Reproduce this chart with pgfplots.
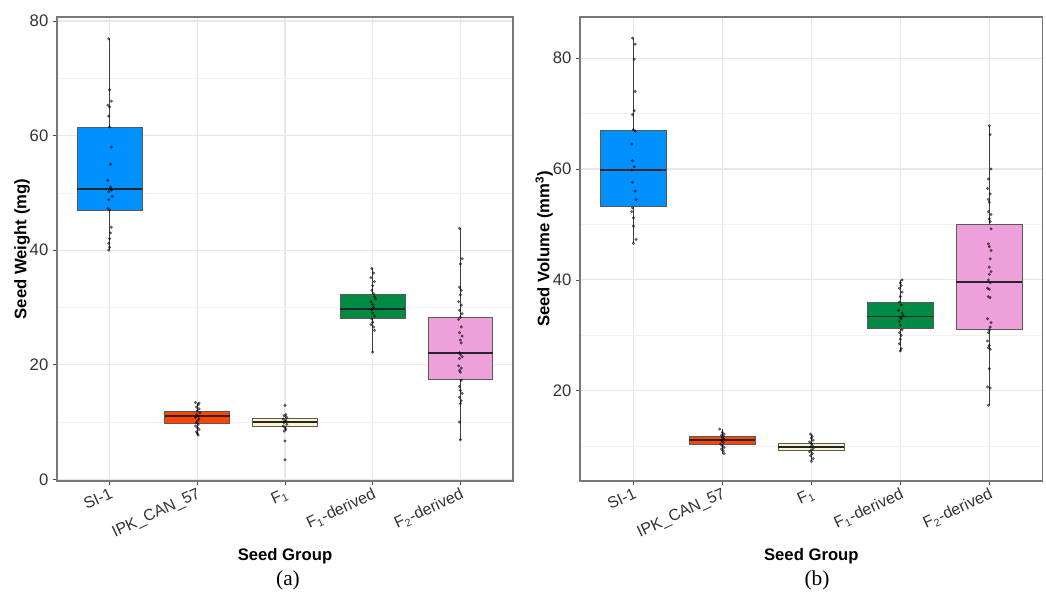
\documentclass[border=0pt]{standalone}
\usepackage{pgfplots}
\pgfplotsset{compat=1.18}
\usepgfplotslibrary{statistics}
\usepackage{fontspec}
\setmainfont{Liberation Sans}
\newfontfamily\capfont{Liberation Serif}
\definecolor{cSI}{RGB}{0,144,255}
\definecolor{cIPK}{RGB}{255,69,0}
\definecolor{cF}{RGB}{250,245,205}
\definecolor{cFd}{RGB}{0,139,69}
\definecolor{cFtwo}{RGB}{238,160,218}
\definecolor{frame}{RGB}{120,120,120}
\pgfplotsset{
  panel/.style={
    scale only axis, width=342pt, height=348pt,
    xmin=0.4, xmax=5.6, xtick={1,2,3,4,5},
    xticklabels={SI-1,IPK\_CAN\_57,F\textsubscript{1},F\textsubscript{1}-derived,F\textsubscript{2}-derived},
    xticklabel style={rotate=25, anchor=north east, inner sep=1pt, font=\fontsize{12}{13}\selectfont, text=black!80},
    yticklabel style={font=\fontsize{12.5}{13}\selectfont, text=black!80},
    /pgf/number format/assume math mode=true,
    grid=both,
    major grid style={color=black!9, line width=0.8pt},
    minor grid style={color=black!5, line width=0.5pt},
    axis line style={frame, line width=0.9pt},
    tick align=outside, tick pos=left,
    major tick length=3pt, minor tick length=0pt,
    every tick/.style={black!70, line width=0.6pt},
    xlabel={Seed Group},
    xlabel style={font=\fontsize{12.5}{14}\bfseries, yshift=-1pt},
    ylabel style={font=\fontsize{12.5}{14}\bfseries},
    ylabel shift=-7pt,
    boxplot/draw direction=y,
    boxplot/box extend=0.74,
    boxplot/whisker extend=0,
    boxplot/every median/.style={line width=1.3pt, draw=black!85},
    boxplot/every whisker/.style={draw=black!75, line width=0.7pt},
  },
  pts/.style={only marks, mark=*, mark size=0.95pt, mark options={draw=black, fill=black, opacity=0.5}},
  bx/.style={draw=black!65, line width=0.6pt, fill=#1},
}
\begin{document}
\begin{tikzpicture}
\useasboundingbox (0,0) rectangle (784.5pt,449.25pt);
% Panel (a)
\begin{axis}[panel, at={(42.75pt,88.5pt)}, anchor=south west,
  ymin=-0.3, ymax=80.7, ytick={0,20,40,60,80}, minor ytick={10,30,50,70},
  ylabel={Seed Weight (mg)}]
\addplot[bx=cSI, boxplot prepared={draw position=1, lower whisker=40.0, lower quartile=47.0, median=50.7, upper quartile=61.4, upper whisker=76.9}] coordinates {};
\addplot[bx=cIPK, boxplot prepared={draw position=2, lower whisker=7.7, lower quartile=9.7, median=11.0, upper quartile=11.9, upper whisker=13.4}] coordinates {};
\addplot[bx=cF, boxplot prepared={draw position=3, lower whisker=8.4, lower quartile=9.2, median=10.0, upper quartile=10.6, upper whisker=11.3}] coordinates {};
\addplot[bx=cFd, boxplot prepared={draw position=4, lower whisker=22.2, lower quartile=28.0, median=29.7, upper quartile=32.2, upper whisker=36.8}] coordinates {};
\addplot[bx=cFtwo, boxplot prepared={draw position=5, lower whisker=6.9, lower quartile=17.5, median=22.0, upper quartile=28.2, upper whisker=43.8}] coordinates {};
\addplot[pts] coordinates {
(0.99,76.9)(1.0,68)(1.02,66)(0.98,65.3)(1.0,65)(0.99,63.4)(1.0,61.5)(1.02,58)(1.01,55)(0.98,52.2)(1.01,51.0)(1.02,50.5)(0.99,50.2)(1.03,49.4)(0.99,48.8)(0.98,47.3)(1.0,47.0)(1.02,44)(1.01,43)(1.0,42)(0.99,41.2)(1.0,40.5)(0.99,40.0)
(1.98,13.4)(2.02,13.3)(2.01,13.0)(1.99,12.6)(2.02,12.3)(2.0,11.9)(2.03,11.6)(1.99,11.3)(2.01,11.0)(1.98,10.8)(2.02,10.5)(2.0,10.2)(1.99,9.9)(2.01,9.6)(1.98,9.3)(2.0,9.0)(2.02,8.7)(1.99,8.3)(2.0,8.0)(2.01,7.7)
(3.0,12.9)(3.01,11.3)(2.99,11.1)(3.02,10.8)(2.98,10.5)(3.01,10.3)(3.0,10.1)(2.99,9.9)(3.02,9.6)(2.98,9.3)(3.0,9.0)(3.01,8.7)(2.99,8.4)(3.0,6.7)(3.0,3.4)
(3.99,36.8)(4.01,36.0)(3.98,35.2)(4.02,34.5)(4.0,33.8)(3.99,33.0)(4.01,32.4)(4.02,31.9)(4.03,31.5)(3.98,31.0)(4.0,30.5)(4.01,30.0)(3.99,29.6)(4.0,29.0)(4.02,28.5)(3.99,28.0)(4.0,27.4)(3.98,27.0)(4.01,26.6)(4.02,26.0)(4.0,22.2)
(4.99,43.8)(5.02,38.5)(5.0,37.6)(4.99,33.5)(5.01,33.0)(5.0,32.2)(4.98,31.0)(5.01,30.4)(4.99,29.5)(5.02,28.9)(5.0,28.3)(4.98,27.9)(5.01,26.6)(4.99,25.6)(5.02,25.0)(5.0,24.3)(5.01,23.8)(4.99,22.1)(5.0,21.8)(5.02,21.4)(4.99,21.1)(4.98,19.8)(5.01,19.4)(4.99,19.0)(5.0,18.7)(5.01,17.3)(4.99,16.2)(5.0,15.5)(5.02,15.0)(4.99,14.3)(5.01,13.7)(5.0,13.2)(4.99,10.0)(5.0,6.9)
};
\end{axis}
% Panel (b)
\begin{axis}[panel, at={(435pt,88.5pt)}, anchor=south west, width=347pt,
  ymin=3.75, ymax=87.4, ytick={20,40,60,80}, minor ytick={10,30,50,70},
  ylabel={Seed Volume (mm\textsuperscript{3})}]
\addplot[bx=cSI, boxplot prepared={draw position=1, lower whisker=46.6, lower quartile=53.2, median=59.8, upper quartile=67.0, upper whisker=83.6}] coordinates {};
\addplot[bx=cIPK, boxplot prepared={draw position=2, lower whisker=8.7, lower quartile=10.4, median=11.1, upper quartile=11.8, upper whisker=13.1}] coordinates {};
\addplot[bx=cF, boxplot prepared={draw position=3, lower whisker=7.3, lower quartile=9.2, median=9.9, upper quartile=10.6, upper whisker=12.2}] coordinates {};
\addplot[bx=cFd, boxplot prepared={draw position=4, lower whisker=27.2, lower quartile=31.3, median=33.4, upper quartile=36.0, upper whisker=40.0}] coordinates {};
\addplot[bx=cFtwo, boxplot prepared={draw position=5, lower whisker=17.4, lower quartile=31.1, median=39.6, upper quartile=50.0, upper whisker=67.8}] coordinates {};
\addplot[pts] coordinates {
(0.99,83.6)(1.02,82.5)(1.01,79.8)(1.02,74.0)(1.01,70.5)(0.99,69.8)(1.0,67.1)(1.02,66.8)(0.98,64.5)(0.99,61.5)(1.01,60.4)(0.98,59.8)(0.99,57.6)(1.02,56.0)(1.03,54.5)(0.99,53.0)(0.98,52.3)(1.0,51.2)(1.0,49.7)(1.03,47.3)(1.0,46.6)
(1.97,13.1)(2.0,12.5)(2.02,12.2)(1.99,12.0)(2.01,11.8)(2.0,11.5)(2.02,11.3)(1.99,11.1)(2.0,10.9)(2.01,10.7)(1.98,10.4)(2.0,10.1)(2.02,9.8)(1.99,9.5)(2.01,9.2)(2.02,8.7)
(2.99,12.2)(3.01,11.8)(3.0,11.5)(3.02,11.1)(2.98,10.8)(3.0,10.5)(3.01,10.2)(2.99,9.9)(3.02,9.6)(3.0,9.3)(2.98,9.0)(3.01,8.7)(2.99,8.3)(3.02,7.8)(3.0,7.3)
(4.02,40.0)(4.0,39.5)(4.01,39.0)(3.99,38.5)(4.02,37.8)(4.0,37.0)(3.99,36.0)(4.01,35.5)(3.98,34.5)(4.02,34.0)(4.03,33.6)(4.0,33.2)(4.01,33.0)(3.99,32.5)(4.0,31.8)(4.02,31.0)(3.99,30.5)(4.01,30.0)(4.0,29.3)(3.99,28.5)(4.01,27.6)(4.0,27.2)
(5.0,67.8)(5.01,66.2)(5.02,60.0)(4.99,58.2)(4.98,56.5)(5.01,55.5)(4.99,54.5)(5.0,54.0)(4.99,52.3)(5.02,51.8)(5.0,51.0)(5.01,50.5)(5.02,49.2)(4.99,46.5)(5.0,46.0)(5.02,45.3)(5.01,43.8)(5.0,42.3)(5.02,41.5)(5.0,41.0)(4.99,40.0)(5.01,39.5)(4.98,38.5)(5.0,38.3)(4.99,37.0)(5.01,36.8)(4.98,33.0)(5.02,32.3)(5.01,31.5)(5.0,31.0)(4.99,30.5)(4.98,29.0)(5.0,28.2)(4.99,27.8)(5.01,27.5)(5.0,24.0)(4.98,20.7)(5.01,20.5)(4.99,17.4)
};
\end{axis}
\node[font=\capfont\fontsize{16}{18}\selectfont] at (216pt,14.25pt) {(a)};
\node[font=\capfont\fontsize{16}{18}\selectfont] at (612.75pt,14.25pt) {(b)};
\end{tikzpicture}
\end{document}
